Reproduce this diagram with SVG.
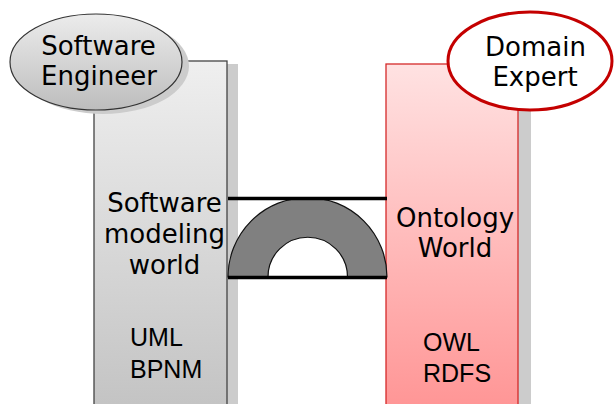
<svg xmlns="http://www.w3.org/2000/svg" width="614" height="404" viewBox="0 0 614 404">
<defs>
<linearGradient id="gGrey" x1="0" y1="0" x2="0" y2="1">
<stop offset="0" stop-color="#efefef"/>
<stop offset="1" stop-color="#c3c3c3"/>
</linearGradient>
<linearGradient id="gRed" x1="0" y1="0" x2="0" y2="1">
<stop offset="0" stop-color="#ffe2e2"/>
<stop offset="1" stop-color="#ff9494"/>
</linearGradient>
<linearGradient id="gEll" x1="0" y1="0" x2="0" y2="1">
<stop offset="0" stop-color="#ececec"/>
<stop offset="1" stop-color="#bdbdbd"/>
</linearGradient>
</defs>
<style>
.dv{font-family:"DejaVu Sans",Verdana,sans-serif;font-size:26px;fill:#000;text-anchor:middle}
.ls{font-family:"Liberation Sans",Arial,sans-serif;font-size:25px;fill:#000}
.shadow{fill:#cccccc}
</style>
<rect width="614" height="404" fill="#ffffff"/>

<g id="software-world">
<rect class="shadow" x="227" y="64" width="11" height="345"/>
<rect x="94" y="61" width="133" height="350" fill="url(#gGrey)" stroke="#444" stroke-width="1.3"/>
<text class="dv" x="164.5" y="212">Software</text>
<text class="dv" x="164.5" y="243">modeling</text>
<text class="dv" x="164.5" y="274">world</text>
<text class="ls" x="130" y="346">UML</text>
<text class="ls" x="130" y="378">BPNM</text>
</g>

<g id="ontology-world">
<rect class="shadow" x="518" y="67" width="13" height="345"/>
<rect x="386" y="64" width="132" height="350" fill="url(#gRed)" stroke="#d42a2a" stroke-width="1.3"/>
<text class="dv" x="455" y="227">Ontology</text>
<text class="dv" x="455" y="257">World</text>
<text class="ls" x="423" y="351">OWL</text>
<text class="ls" x="423" y="382">RDFS</text>
</g>

<g id="software-engineer">
<ellipse class="shadow" cx="103" cy="66" rx="86" ry="48"/>
<ellipse cx="96" cy="62" rx="86" ry="48" fill="url(#gEll)" stroke="#333" stroke-width="1.2"/>
<text class="dv" x="98.5" y="55">Software</text>
<text class="dv" x="99" y="85">Engineer</text>
</g>

<g id="domain-expert">
<ellipse cx="530" cy="61" rx="82" ry="49" fill="#ffffff" stroke="#c40000" stroke-width="3"/>
<text class="dv" x="535.5" y="56">Domain</text>
<text class="dv" x="535" y="86">Expert</text>
</g>

<g id="connectors">
<path d="M228 277 A79.5 79.5 0 0 1 387 277 L347.5 277 A39.75 39.75 0 0 0 268 277 Z" fill="#808080" stroke="#111" stroke-width="1.2"/>
<line x1="228" y1="198.5" x2="387" y2="198.5" stroke="#000" stroke-width="3.5"/>
<line x1="228" y1="277.5" x2="387" y2="277.5" stroke="#000" stroke-width="3.5"/>
</g>
</svg>
